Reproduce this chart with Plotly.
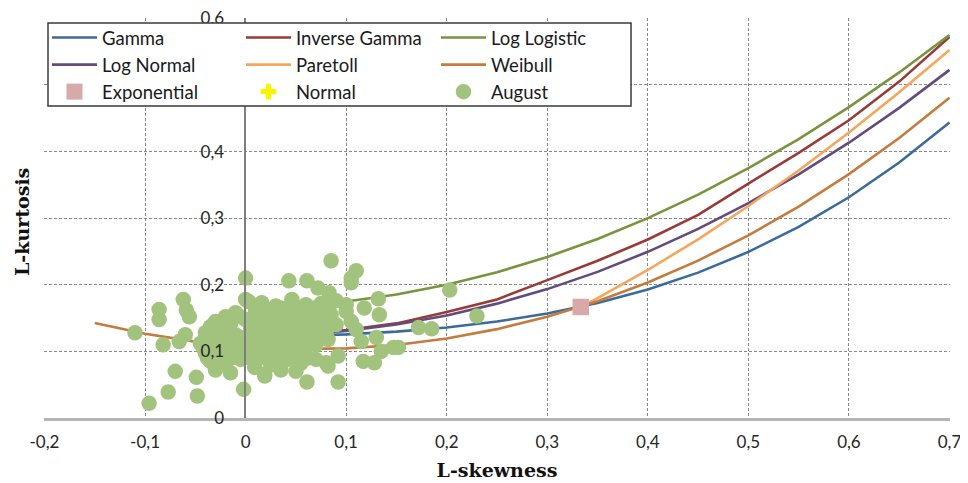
import plotly.graph_objects as go

# ---------------- data ----------------
TAU3 = [0.0, 0.05, 0.1, 0.15, 0.2, 0.25, 0.3, 0.35, 0.4, 0.45, 0.5, 0.55, 0.6, 0.65, 0.7]
GAMMA = [0.1224, 0.1232, 0.1255, 0.1297, 0.1359, 0.1448, 0.1569, 0.1727, 0.1929, 0.2182,
         0.2493, 0.2869, 0.3314, 0.3835, 0.4435]
INV_GAMMA = [0.125, 0.127, 0.132, 0.142, 0.159, 0.178, 0.207, 0.236, 0.268, 0.305,
             0.352, 0.398, 0.447, 0.505, 0.572]
LOG_LOGISTIC = [0.1667, 0.1688, 0.1750, 0.1854, 0.2000, 0.2188, 0.2417, 0.2688, 0.3000,
                0.3354, 0.3750, 0.4188, 0.4667, 0.5188, 0.5750]
LOG_NORMAL = [0.1228, 0.1247, 0.1306, 0.1403, 0.1540, 0.1717, 0.1935, 0.2194, 0.2495,
              0.2839, 0.3226, 0.3657, 0.4133, 0.4656, 0.5226]

WEIBULL_T3 = [-0.15, -0.1, -0.05, 0.0, 0.05, 0.1, 0.15, 0.2, 0.25, 0.3, 0.35, 0.4, 0.45,
              0.5, 0.55, 0.6, 0.65, 0.7]
WEIBULL = [0.1425, 0.1265, 0.1147, 0.1070, 0.1036, 0.1045, 0.1097, 0.1193, 0.1334, 0.1521,
           0.1754, 0.2034, 0.2363, 0.2742, 0.3174, 0.3661, 0.4204, 0.4808]

PARETO_T3 = [0.3333, 0.35, 0.4, 0.45, 0.5, 0.55, 0.6, 0.65, 0.7]
PARETO = [0.1667, 0.1799, 0.2222, 0.2683, 0.3182, 0.3716, 0.4286, 0.4889, 0.5526]

EXPO_T3 = [0.3333]
EXPO_T4 = [0.1667]
NORMAL_T3 = [0.0]
NORMAL_T4 = [0.1226]

AUG_T3 = [
    -0.110, -0.096, -0.086, -0.086, -0.082, -0.077, -0.070, -0.066, -0.062, -0.059,
    -0.056, -0.060, -0.049, -0.048, -0.002, 0.000, 0.000, 0.019, 0.061, 0.092,
    0.085, 0.110, 0.105, 0.105, 0.043, 0.061, 0.072, 0.083, 0.132, 0.133,
    0.147, 0.128, 0.117, 0.110, 0.115, 0.130, 0.135, 0.203, 0.230, 0.172,
    0.185, 0.152, 0.100, 0.118,
    0.003, 0.016, 0.046, 0.060, 0.075, 0.090, 0.030,
    -0.010, 0.010, 0.025, 0.040, 0.055, 0.070, 0.085, 0.100, 0.062,
    -0.030, -0.015, 0.000, 0.015, 0.030, 0.045, 0.060, 0.075, 0.090, 0.105,
    -0.040, -0.025, -0.010, 0.005, 0.020, 0.035, 0.050, 0.065, 0.080, 0.042,
    -0.045, -0.030, -0.015, 0.000, 0.012, 0.028, 0.040, 0.055, 0.070, 0.082,
    -0.040, -0.025, -0.010, 0.005, 0.020, 0.035, 0.050, 0.062, 0.080, 0.092,
    -0.035, -0.020, -0.005, 0.010, 0.025, 0.040, 0.055, 0.070, 0.082,
    -0.030, -0.015, 0.009, 0.019, 0.035, 0.050, -0.038, -0.042, 0.018, 0.052,
    -0.020, -0.005, 0.018, 0.032, 0.048, 0.068, 0.080,
    -0.035, -0.020, 0.008, 0.022, 0.038, 0.052, 0.068, 0.082,
    -0.035, -0.020, -0.005, 0.008, 0.022, 0.035, 0.048, 0.062, 0.075,
    -0.035, -0.020, -0.005, 0.012, 0.028, 0.045, 0.058,
    -0.028, -0.012, 0.002, 0.015, 0.030, 0.045, 0.060,
    0.035, 0.052, 0.068, 0.082,
]
AUG_T4 = [
    0.128, 0.022, 0.163, 0.148, 0.110, 0.039, 0.070, 0.115, 0.178, 0.162,
    0.152, 0.125, 0.061, 0.033, 0.043, 0.210, 0.178, 0.063, 0.054, 0.054,
    0.236, 0.221, 0.210, 0.203, 0.206, 0.206, 0.195, 0.188, 0.179, 0.155,
    0.106, 0.083, 0.085, 0.133, 0.115, 0.121, 0.100, 0.192, 0.153, 0.136,
    0.134, 0.106, 0.170, 0.165,
    0.175, 0.173, 0.178, 0.170, 0.172, 0.176, 0.168,
    0.158, 0.160, 0.155, 0.162, 0.158, 0.160, 0.155, 0.160, 0.148,
    0.145, 0.142, 0.148, 0.145, 0.140, 0.148, 0.138, 0.145, 0.140, 0.145,
    0.128, 0.132, 0.125, 0.135, 0.128, 0.132, 0.125, 0.130, 0.128, 0.118,
    0.112, 0.118, 0.110, 0.115, 0.120, 0.112, 0.105, 0.115, 0.110, 0.118,
    0.098, 0.102, 0.095, 0.100, 0.097, 0.102, 0.095, 0.090, 0.083, 0.093,
    0.085, 0.082, 0.088, 0.085, 0.080, 0.087, 0.082, 0.088, 0.078,
    0.072, 0.068, 0.076, 0.066, 0.072, 0.070, 0.090, 0.105, 0.108, 0.140,
    0.152, 0.152, 0.152, 0.152, 0.152, 0.152, 0.152,
    0.137, 0.137, 0.137, 0.137, 0.137, 0.137, 0.137, 0.137,
    0.121, 0.121, 0.121, 0.121, 0.121, 0.121, 0.121, 0.121, 0.121,
    0.106, 0.106, 0.106, 0.106, 0.106, 0.106, 0.106,
    0.091, 0.091, 0.091, 0.091, 0.091, 0.091, 0.091,
    0.165, 0.165, 0.165, 0.165,
]

X_TICKS = [-0.2, -0.1, 0.0, 0.1, 0.2, 0.3, 0.4, 0.5, 0.6, 0.7]
X_TICK_TEXT = ["-0,2", "-0,1", "0", "0,1", "0,2", "0,3", "0,4", "0,5", "0,6", "0,7"]
Y_TICKS = [0.0, 0.1, 0.2, 0.3, 0.4, 0.5, 0.6]
Y_TICK_TEXT = ["0", "0,1", "0,2", "0,3", "0,4", "0,5", "0,6"]

# ---------------- figure ----------------
LEG_FONT = dict(family="Lato, 'Open Sans', sans-serif", size=18.5, color="#1a1a1a")
TICK_FONT = dict(family="Lato, sans-serif", size=17, color="#262626")
TITLE_FONT = dict(family="DejaVu Serif", size=19, color="#111111", weight="bold")
LW = 2.6

fig = go.Figure()

def line(x, y, name, color, leg):
    fig.add_trace(go.Scatter(x=x, y=y, mode="lines", name=name, legend=leg,
                             line=dict(color=color, width=LW)))

line(TAU3, GAMMA, "Gamma", "#3B6B9C", "legend")
line(TAU3, INV_GAMMA, "Inverse Gamma", "#9A3A38", "legend2")
line(TAU3, LOG_LOGISTIC, "Log Logistic", "#78953D", "legend3")
line(TAU3, LOG_NORMAL, "Log Normal", "#624C7E", "legend")
line(PARETO_T3, PARETO, "Paretoll", "#F6A55C", "legend2")
line(WEIBULL_T3, WEIBULL, "Weibull", "#C57B3D", "legend3")

fig.add_trace(go.Scatter(x=EXPO_T3, y=EXPO_T4, mode="markers", name="Exponential",
                         legend="legend",
                         marker=dict(symbol="square", size=16.5, color="#D8A9A9")))
fig.add_trace(go.Scatter(x=NORMAL_T3, y=NORMAL_T4, mode="markers", name="Normal",
                         legend="legend2",
                         marker=dict(symbol="cross", size=13, color="#FFF200")))
fig.add_trace(go.Scatter(x=AUG_T3, y=AUG_T4, mode="markers", name="August",
                         legend="legend3",
                         marker=dict(symbol="circle", size=15.5, color="#A2C37E")))

# page body has an 8px default margin: figure is drawn 8px right/down of window origin
OFF = 8
FW, FH = 960, 475
L, T = 44 - OFF, 18 - OFF           # plot left/top on screen: 44, 18
R = FW - (950 - OFF)                # plot right on screen: 950
B = FH - (418 - OFF)                # plot bottom on screen: 418
PW = FW - L - R
PH = FH - T - B

def px2x(p):
    return (p - OFF - L) / PW

def py2y(p):
    return 1 - (p - OFF - T) / PH

leg_common = dict(bgcolor="rgba(0,0,0,0)", borderwidth=0, font=LEG_FONT,
                  itemwidth=45, xanchor="left", yanchor="top", y=py2y(19),
                  tracegroupgap=0)

fig.update_layout(
    width=FW, height=FH,
    margin=dict(l=L, r=R, t=T, b=B, autoexpand=False),
    paper_bgcolor="white", plot_bgcolor="white",
    separators=", ",
    legend=dict(x=px2x(47), **leg_common),
    legend2=dict(x=px2x(241), **leg_common),
    legend3=dict(x=px2x(436), **leg_common),
    xaxis=dict(
        range=[-0.2005, 0.7005], tickvals=X_TICKS, ticktext=X_TICK_TEXT,
        showgrid=True, gridcolor="#8a8a8a", gridwidth=1, griddash="3px,2px",
        zeroline=False, showline=True, linecolor="#b5b5b5", linewidth=2.5,
        ticks="", ticklabelstandoff=7, automargin=False, ticklabeloverflow="allow",
        tickfont=TICK_FONT,
        title=dict(text="L-skewness", standoff=13, font=TITLE_FONT),
    ),
    yaxis=dict(
        range=[0, 0.6005], tickvals=Y_TICKS, ticktext=Y_TICK_TEXT,
        anchor="free", position=0.2 / 0.9,
        showgrid=True, gridcolor="#8a8a8a", gridwidth=1, griddash="3px,2px",
        zeroline=False, showline=True, linecolor="#7f7f7f", linewidth=1.5,
        ticks="", ticklabelstandoff=17, automargin=False, ticklabeloverflow="allow",
        tickfont=TICK_FONT,
    ),
    shapes=[dict(type="rect", xref="paper", yref="paper",
                 x0=px2x(48), x1=px2x(631), y0=py2y(106), y1=py2y(23),
                 line=dict(color="#3a3a3a", width=1.5), fillcolor="white", layer="above")],
    annotations=[dict(text="L-kurtosis", textangle=-90, xref="paper", yref="paper",
                      x=px2x(22), y=py2y(222), showarrow=False, xanchor="center",
                      yanchor="middle", font=TITLE_FONT)],
)

fig.write_html("out.html")
